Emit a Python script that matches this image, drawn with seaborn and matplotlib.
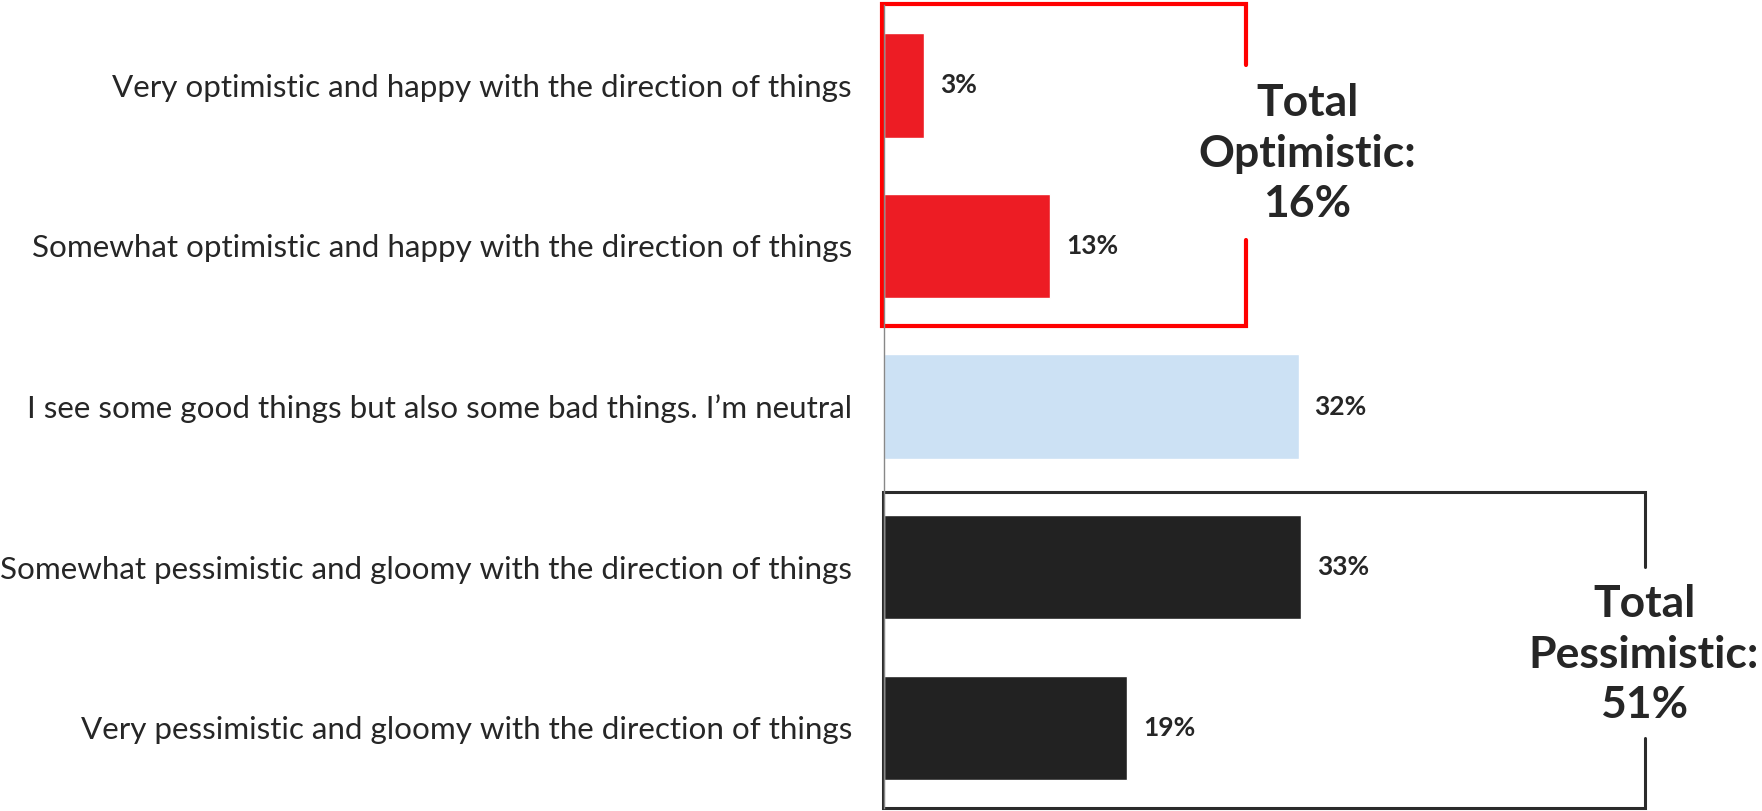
import matplotlib
matplotlib.use('Agg')
import matplotlib.pyplot as plt
import seaborn as sns

categories = [
    'Very optimistic and happy with the direction of things',
    'Somewhat optimistic and happy with the direction of things',
    'I see some good things but also some bad things. I\u2019m neutral',
    'Somewhat pessimistic and gloomy with the direction of things',
    'Very pessimistic and gloomy with the direction of things',
]
values = [3.1, 13.0, 32.4, 32.6, 19.0]
colors = ['#ED1C24', '#ED1C24', '#CCE1F4', '#222222', '#222222']
total_optimistic = 16
total_pessimistic = 51

sns.set_style('white')
plt.rcParams['font.family'] = ['Lato', 'DejaVu Sans']

fig = plt.figure(figsize=(17.62, 8.11), dpi=100)
ax = fig.add_axes([0.5017, 0.0037, 0.4938, 0.9901])

sns.barplot(x=values, y=categories, hue=categories, palette=colors,
            saturation=1, orient='h', width=0.65, legend=False, ax=ax)

ax.set_xlim(0, 68)
ax.set_ylim(4.5, -0.5)
ax.set_xticks([])
ax.set_xlabel('')
ax.set_ylabel('')
for s in ['top', 'right', 'bottom']:
    ax.spines[s].set_visible(False)
ax.spines['left'].set_color('#888888')
ax.spines['left'].set_linewidth(1)
ax.tick_params(axis='y', length=0, pad=23, labelsize=22.6, labelcolor='#262626')

# value labels
for i, v in enumerate(values):
    ax.text(v + 1.25, i, f'{v:.0f}%', va='center', ha='left',
            fontsize=19, fontweight='bold', color='#262626')

# red box around the optimistic rows, open on the right for the total
red = '#FF0000'
ax.plot([28.3, 28.3, -0.16, -0.16, 28.3, 28.3],
        [-0.124, -0.504, -0.504, 1.498, 1.498, 0.965],
        color=red, lw=3, clip_on=False, solid_joinstyle='miter')
ax.text(33.1, 0.425, f'Total\nOptimistic:\n{total_optimistic}%', ha='center',
        va='center', fontsize=32, fontweight='bold', color='#262626',
        linespacing=1.32)

# dark box around the pessimistic rows
dark = '#2B2B2B'
ax.plot([59.45, 59.45, -0.08, -0.08, 59.45, 59.45],
        [3.0, 2.533, 2.533, 4.499, 4.499, 4.063],
        color=dark, lw=2.2, clip_on=False, solid_joinstyle='miter')
ax.text(59.4, 3.545, f'Total\nPessimistic:\n{total_pessimistic}%', ha='center',
        va='center', fontsize=32, fontweight='bold', color='#262626',
        linespacing=1.32)

fig.savefig('out.png', dpi=100)
